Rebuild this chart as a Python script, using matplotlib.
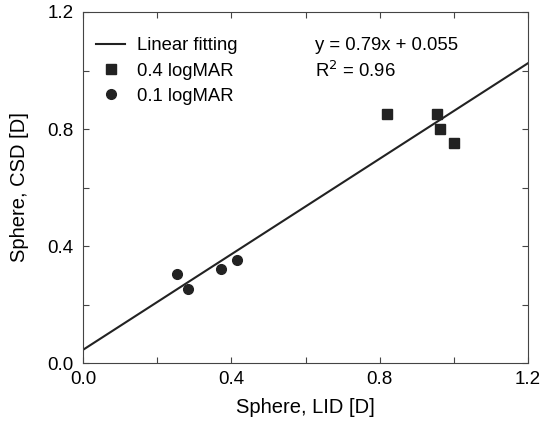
import matplotlib
matplotlib.use("Agg")
import matplotlib.pyplot as plt
from matplotlib.ticker import MultipleLocator, FormatStrFormatter

plt.rcParams['font.family'] = ['Liberation Sans', 'DejaVu Sans']

# 0.4 logMAR (squares)
sq_x = [0.82, 0.955, 0.963, 1.0]
sq_y = [0.85, 0.85, 0.80, 0.752]
# 0.1 logMAR (circles)
ci_x = [0.253, 0.284, 0.372, 0.414]
ci_y = [0.303, 0.252, 0.322, 0.352]
# fitted line as drawn
fit_x = [0.0, 1.2]
fit_y = [0.045, 1.025]

fig = plt.figure(figsize=(5.4, 4.22), dpi=100)
ax = fig.add_axes([83/540, 1-363/422, 445/540, 351/422])

ax.plot(fit_x, fit_y, color="#222222", lw=1.5, label="Linear fitting")
ax.plot(sq_x, sq_y, "s", color="#222222", ms=7, label="0.4 logMAR")
ax.plot(ci_x, ci_y, "o", color="#222222", ms=7, label="0.1 logMAR")

ax.set_xlim(0, 1.2)
ax.set_ylim(0, 1.2)
ax.xaxis.set_major_locator(MultipleLocator(0.4))
ax.yaxis.set_major_locator(MultipleLocator(0.4))
ax.xaxis.set_minor_locator(MultipleLocator(0.2))
ax.yaxis.set_minor_locator(MultipleLocator(0.2))
ax.xaxis.set_major_formatter(FormatStrFormatter("%.1f"))
ax.yaxis.set_major_formatter(FormatStrFormatter("%.1f"))
ax.tick_params(which="both", direction="in", top=True, right=True, length=4.5,
               width=0.8, labelsize=13.5, color="#444444")
ax.tick_params(axis="x", which="major", pad=6)
ax.tick_params(axis="y", which="major", pad=7)
for s in ax.spines.values():
    s.set_color("#444444")

ax.set_xlabel("Sphere, LID [D]", fontsize=14.5, labelpad=7)
ax.set_ylabel("Sphere, CSD [D]", fontsize=14.5, labelpad=13)

ax.text(0.625, 1.087, "y = 0.79x + 0.055", fontsize=13.3, va="center")
ax.text(0.625, 1.0, "R$^2$ = 0.96", fontsize=13.3, va="center")

ax.legend(loc="upper left", frameon=False, fontsize=13.3, handlelength=1.6,
          bbox_to_anchor=(0.0, 0.965), labelspacing=0.45, borderaxespad=0.3,
          handletextpad=0.6)

fig.savefig("out.png", dpi=100)
